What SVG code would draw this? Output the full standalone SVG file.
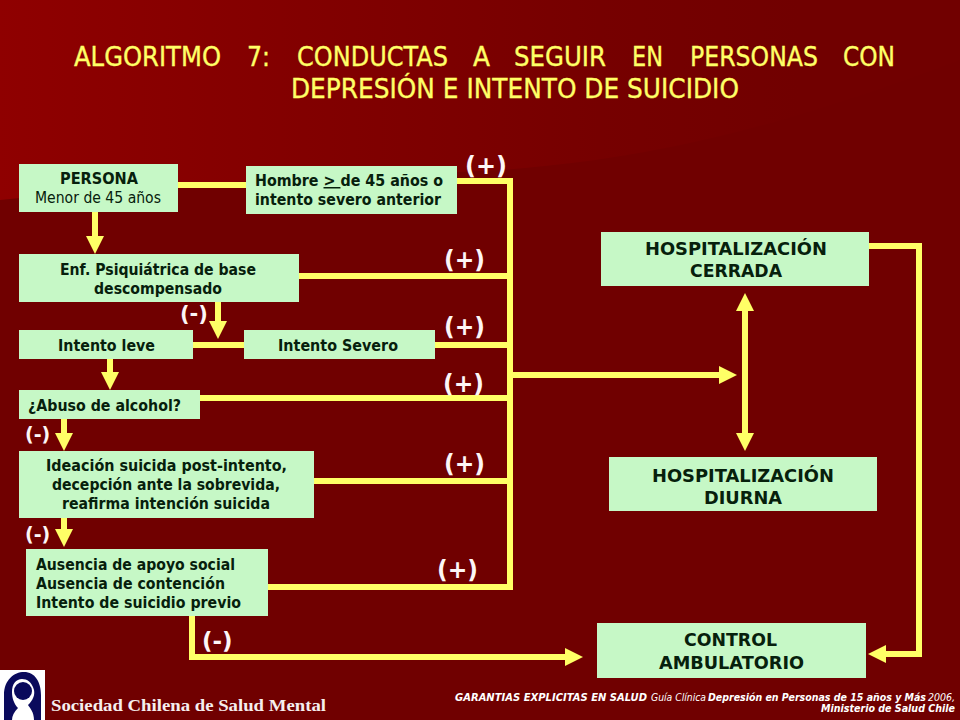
<svg xmlns="http://www.w3.org/2000/svg" width="960" height="720" viewBox="0 0 960 720">
<style>
.box{fill:#c6f8c6}
.b{font:bold 15px "DejaVu Sans",sans-serif;fill:#06200c}
.r{font:15px "DejaVu Sans",sans-serif;fill:#06200c}
.h{font:bold 18px "DejaVu Sans",sans-serif;fill:#06200c}
.t{font:26px "DejaVu Sans",sans-serif;fill:#ffff66;stroke:#ffff66;stroke-width:.35}
.l{font:bold 24px "DejaVu Sans",sans-serif;fill:#fdf6f6}
.fb{font:italic bold 11px "DejaVu Sans",sans-serif;fill:#fff}
.fr{font:italic 11px "DejaVu Sans",sans-serif;fill:#fff}
.line{fill:none;stroke:#ffff66;stroke-width:6;stroke-linejoin:miter}
</style>
<defs>
<linearGradient id="bg" gradientUnits="userSpaceOnUse" x1="0" y1="0" x2="800" y2="0"><stop offset="0" stop-color="#8f0000"/><stop offset="0.38" stop-color="#820000"/><stop offset="0.75" stop-color="#760000"/><stop offset="1" stop-color="#710000"/></linearGradient>
<marker id="head" markerUnits="userSpaceOnUse" markerWidth="18" markerHeight="18" refX="7" refY="9" orient="auto-start-reverse"><path d="M0 0L18 9L0 18Z" fill="#ffff66"/></marker>
</defs>
<rect id="background" width="960" height="720" fill="#700000"/>
<path d="M0 0H960V60C800 120 650 165 460 172C250 178 100 190 0 200Z" fill="url(#bg)"/>
<g id="title">
<text class="t" x="74" y="66" textLength="147" lengthAdjust="spacingAndGlyphs">ALGORITMO</text>
<text class="t" x="247" y="66" textLength="23" lengthAdjust="spacingAndGlyphs">7:</text>
<text class="t" x="297" y="66" textLength="151" lengthAdjust="spacingAndGlyphs">CONDUCTAS</text>
<text class="t" x="473" y="66" textLength="17" lengthAdjust="spacingAndGlyphs">A</text>
<text class="t" x="514" y="66" textLength="92" lengthAdjust="spacingAndGlyphs">SEGUIR</text>
<text class="t" x="632" y="66" textLength="31" lengthAdjust="spacingAndGlyphs">EN</text>
<text class="t" x="690" y="66" textLength="128" lengthAdjust="spacingAndGlyphs">PERSONAS</text>
<text class="t" x="843" y="66" textLength="52" lengthAdjust="spacingAndGlyphs">CON</text>
<text class="t" x="291" y="98" textLength="448" lengthAdjust="spacingAndGlyphs">DEPRESIÓN E INTENTO DE SUICIDIO</text>
</g>
<g id="connectors">
<path class="line" d="M178 185H246"/>
<path class="line" d="M457 181H513M510 178V590M299 276H510M435 345H510M200 398H510M314 481H510M268 587H510"/>
<path class="line" d="M193 345H244"/>
<path class="line" marker-end="url(#head)" d="M95 212V243"/>
<path class="line" marker-end="url(#head)" d="M218 302V328"/>
<path class="line" marker-end="url(#head)" d="M110 359V379"/>
<path class="line" marker-end="url(#head)" d="M64 419V440"/>
<path class="line" marker-end="url(#head)" d="M64 518V536"/>
<path class="line" marker-end="url(#head)" d="M510 375H726"/>
<path class="line" marker-start="url(#head)" marker-end="url(#head)" d="M745 304V440"/>
<path class="line" marker-end="url(#head)" d="M869 246H919V654H879"/>
<path class="line" marker-end="url(#head)" d="M192 616V657H572"/>
</g>
<g id="node-persona"><rect class="box" x="19" y="164" width="159" height="48"/>
<text class="b" x="60" y="184" textLength="78" lengthAdjust="spacingAndGlyphs">PERSONA</text>
<text class="r" x="35" y="203" textLength="126" lengthAdjust="spacingAndGlyphs">Menor de 45 años</text></g>
<g id="node-hombre"><rect class="box" x="246" y="166" width="211" height="48"/>
<text class="b" x="255" y="186" textLength="188" lengthAdjust="spacingAndGlyphs">Hombre <tspan text-decoration="underline">&gt; </tspan>de 45 años o</text>
<text class="b" x="255" y="205" textLength="186" lengthAdjust="spacingAndGlyphs">intento severo anterior</text></g>
<g id="node-enf"><rect class="box" x="19" y="254" width="280" height="48"/>
<text class="b" x="60" y="275" textLength="196" lengthAdjust="spacingAndGlyphs">Enf. Psiquiátrica de base</text>
<text class="b" x="94" y="294" textLength="128" lengthAdjust="spacingAndGlyphs">descompensado</text></g>
<g id="node-leve"><rect class="box" x="19" y="330" width="174" height="29"/>
<text class="b" x="58" y="351" textLength="97" lengthAdjust="spacingAndGlyphs">Intento leve</text></g>
<g id="node-severo"><rect class="box" x="244" y="330" width="191" height="29"/>
<text class="b" x="278" y="351" textLength="120" lengthAdjust="spacingAndGlyphs">Intento Severo</text></g>
<g id="node-abuso"><rect class="box" x="19" y="390" width="181" height="29"/>
<text class="b" x="28" y="411" textLength="153" lengthAdjust="spacingAndGlyphs">¿Abuso de alcohol?</text></g>
<g id="node-ideacion"><rect class="box" x="19" y="451" width="295" height="67"/>
<text class="b" x="46" y="471" textLength="241" lengthAdjust="spacingAndGlyphs">Ideación suicida post-intento,</text>
<text class="b" x="52" y="490" textLength="228" lengthAdjust="spacingAndGlyphs">decepción ante la sobrevida,</text>
<text class="b" x="62" y="509" textLength="208" lengthAdjust="spacingAndGlyphs">reafirma intención suicida</text></g>
<g id="node-ausencia"><rect class="box" x="26" y="549" width="242" height="67"/>
<text class="b" x="36" y="570" textLength="199" lengthAdjust="spacingAndGlyphs">Ausencia de apoyo social</text>
<text class="b" x="36" y="589" textLength="189" lengthAdjust="spacingAndGlyphs">Ausencia de contención</text>
<text class="b" x="36" y="608" textLength="205" lengthAdjust="spacingAndGlyphs">Intento de suicidio previo</text></g>
<g id="node-cerrada"><rect class="box" x="601" y="232" width="268" height="54"/>
<text class="h" x="645" y="255" textLength="182" lengthAdjust="spacingAndGlyphs">HOSPITALIZACIÓN</text>
<text class="h" x="690" y="277" textLength="92" lengthAdjust="spacingAndGlyphs">CERRADA</text></g>
<g id="node-diurna"><rect class="box" x="609" y="457" width="268" height="54"/>
<text class="h" x="652" y="482" textLength="182" lengthAdjust="spacingAndGlyphs">HOSPITALIZACIÓN</text>
<text class="h" x="704" y="504" textLength="78" lengthAdjust="spacingAndGlyphs">DIURNA</text></g>
<g id="node-control"><rect class="box" x="597" y="623" width="269" height="55"/>
<text class="h" x="684" y="646" textLength="93" lengthAdjust="spacingAndGlyphs">CONTROL</text>
<text class="h" x="659" y="669" textLength="145" lengthAdjust="spacingAndGlyphs">AMBULATORIO</text></g>
<g id="labels">
<text class="l" x="465" y="174" textLength="42" lengthAdjust="spacingAndGlyphs">(+)</text>
<text class="l" x="444" y="268" textLength="41" lengthAdjust="spacingAndGlyphs">(+)</text>
<text class="l" x="444" y="335" textLength="41" lengthAdjust="spacingAndGlyphs">(+)</text>
<text class="l" x="443" y="392" textLength="41" lengthAdjust="spacingAndGlyphs">(+)</text>
<text class="l" x="444" y="472" textLength="41" lengthAdjust="spacingAndGlyphs">(+)</text>
<text class="l" x="437" y="578" textLength="41" lengthAdjust="spacingAndGlyphs">(+)</text>
<text class="l" x="180" y="321" style="font-size:21px">(-)</text>
<text class="l" x="25" y="441" style="font-size:19px">(-)</text>
<text class="l" x="25" y="541" style="font-size:19px">(-)</text>
<text class="l" x="202" y="649" style="font-size:23px">(-)</text>
</g>
<g id="logo">
<rect x="0" y="670" width="45" height="50" fill="#fff"/>
<path d="M4 720V695C4 680 14 672 24 672C35 672 41 682 41 695V720H34C34 712 30 708 28 705C33 700 35 695 34 690C32 682 27 679 22 679C16 679 12 684 12 692C12 698 14 704 18 708C14 712 12 716 12 720Z" fill="#0a0a5c"/>
<circle cx="23" cy="691" r="9" fill="#0a0a5c"/>
</g>
<g id="footer">
<text x="51" y="711" textLength="275" lengthAdjust="spacingAndGlyphs" style="font:bold 17px 'Liberation Serif',serif;fill:#f5eeee">Sociedad Chilena de Salud Mental</text>
<text class="fb" x="455" y="701" textLength="192" lengthAdjust="spacingAndGlyphs">GARANTIAS EXPLICITAS EN SALUD</text>
<text class="fr" x="651" y="701" textLength="55" lengthAdjust="spacingAndGlyphs">Guía Clínica</text>
<text class="fb" x="708" y="701" textLength="218" lengthAdjust="spacingAndGlyphs">Depresión en Personas de 15 años y Más</text>
<text class="fr" x="928" y="701" textLength="27" lengthAdjust="spacingAndGlyphs">2006,</text>
<text class="fb" x="821" y="712" textLength="134" lengthAdjust="spacingAndGlyphs">Ministerio de Salud Chile</text>
</g>
</svg>
